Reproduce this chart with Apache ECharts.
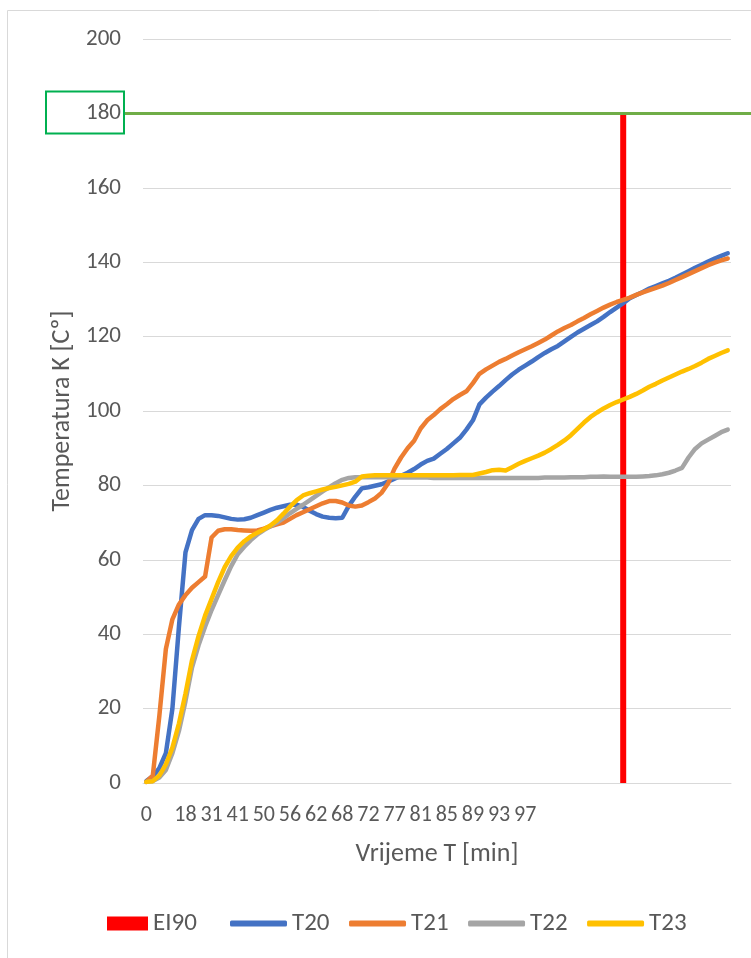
<!DOCTYPE html>
<html><head><meta charset="utf-8">
<script src="https://cdn.jsdelivr.net/npm/echarts@6/dist/echarts.min.js"></script>
<style>html,body{margin:0;padding:0;background:#fff}#c{width:751px;height:958px}</style>
</head><body><div id="c"></div>
<script>
// ---- data ----
const N = 90;
const tickIndex  = [0, 6, 10, 14, 18, 22, 26, 30, 34, 38, 42, 46, 50, 54, 58];
const tickLabels = ['0','18','31','41','50','56','62','68','72','77','81','85','89','93','97'];
const seriesNames = ['EI90','T20','T21','T22','T23'];
const T20 = [0.5,1.8,4,8,20,42,62,68,71,72,
  72,71.8,71.4,71,70.8,70.9,71.3,72,72.7,73.4,
  74,74.4,74.8,74.8,74.2,73.2,72.3,71.6,71.3,71.2,
  71.3,74.5,77,79.2,79.5,79.9,80.3,81,81.8,82.6,
  83.4,84.4,85.6,86.6,87.2,88.5,89.8,91.3,92.8,95,
  97.5,101.8,103.6,105.2,106.7,108.3,109.8,111.1,112.2,113.3,
  114.5,115.6,116.6,117.5,118.7,119.9,121.1,122.1,123.1,124.1,
  125.3,126.6,127.8,129,130.3,131.2,132,132.9,133.6,134.3,
  135,135.8,136.7,137.6,138.5,139.3,140.2,141,141.7,142.4];
const T21 = [0.3,2,18,36,44,48,50.5,52.5,54,55.5,
  66,67.8,68.2,68.2,68,67.9,67.8,67.9,68.4,69,
  69.5,70,71,72,72.8,73.6,74.4,75.2,75.8,75.8,
  75.4,74.6,74.3,74.6,75.5,76.5,78,80.5,84.5,87.5,
  90,92,95.3,97.5,98.9,100.5,101.8,103.2,104.3,105.3,
  107.5,110,111.2,112.2,113.2,114,114.9,115.8,116.6,117.4,
  118.3,119.2,120.3,121.4,122.3,123.1,124.1,125,126,126.9,
  127.8,128.6,129.3,129.9,130.5,131.2,131.9,132.5,133.1,133.7,
  134.4,135.2,136,136.8,137.6,138.4,139.2,139.9,140.5,141];
const T22 = [0.3,0.5,1.5,3.5,8,14,22,31,37,42,
  46.5,50.5,54.5,58.3,61.5,63.5,65.3,66.8,68,69,
  70,71.2,72.5,73.7,74.8,76,77.2,78.4,79.5,80.6,
  81.5,82,82.2,82.2,82.2,82.2,82.2,82.2,82.2,82.1,
  82.1,82.1,82.1,82.1,82,82,82,82,82,82,
  82,82,82,82,82,82,82,82,82,82,
  82,82.1,82.1,82.1,82.1,82.2,82.2,82.2,82.3,82.3,
  82.4,82.3,82.3,82.3,82.3,82.3,82.4,82.5,82.7,83,
  83.4,84,84.7,87.5,89.8,91.3,92.3,93.3,94.3,95];
const T23 = [0.3,0.5,2,5,9.5,16,24,33,39.5,45,
  49.5,54,58,61,63.3,65,66.3,67.3,68.2,69.2,
  70.6,72.4,74.3,76,77.3,77.9,78.4,78.9,79.3,79.6,
  80,80.4,81,82.4,82.6,82.7,82.7,82.7,82.7,82.7,
  82.7,82.7,82.7,82.7,82.7,82.7,82.7,82.7,82.8,82.8,
  82.8,83.2,83.6,84.1,84.2,84,84.9,85.8,86.6,87.3,
  88,88.8,89.8,90.9,92.1,93.5,95.2,96.9,98.4,99.6,
  100.7,101.6,102.4,103.1,103.8,104.6,105.5,106.5,107.3,108.2,
  109,109.8,110.6,111.3,112.1,113,114,114.8,115.6,116.3];
const ei90Index = 73;
const ei90Value = 180;
const limitValue = 180;

// ---- build ----
const categories = Array.from({length: N}, (_, i) => {
  const k = tickIndex.indexOf(i);
  return k >= 0 ? tickLabels[k] : '';
});
const ei90 = categories.map((_, i) => (i === ei90Index ? ei90Value : null));

const FONT = 'Carlito, Lato, "Liberation Sans", sans-serif';
const TXT = '#595959';
const chart = echarts.init(document.getElementById('c'), null, {renderer: 'canvas'});
const lineSeries = (name, data, color) => ({
  name, type: 'line', data, symbol: 'none', smooth: false,
  lineStyle: {color, width: 4.5, cap: 'round', join: 'round'},
  itemStyle: {color}
});
chart.setOption({
  animation: false,
  textStyle: {fontFamily: FONT},
  grid: {left: 143, right: 20, top: 39, bottom: 175},
  xAxis: {
    type: 'category', data: categories, boundaryGap: true,
    axisLine: {lineStyle: {color: '#d9d9d9', width: 1}},
    axisTick: {show: false},
    axisLabel: {interval: 0, color: TXT, fontSize: 22, margin: 21, fontFamily: FONT},
    name: 'Vrijeme T [min]', nameLocation: 'middle', nameGap: 58,
    nameTextStyle: {color: TXT, fontSize: 26, fontFamily: FONT}
  },
  yAxis: {
    type: 'value', min: 0, max: 200, interval: 20,
    axisLine: {show: false}, axisTick: {show: false},
    axisLabel: {color: TXT, fontSize: 23, margin: 22, fontFamily: FONT},
    splitLine: {lineStyle: {color: '#d9d9d9', width: 1}},
    name: 'Temperatura K [Cº]', nameLocation: 'middle', nameGap: 68,
    nameTextStyle: {color: TXT, fontSize: 26, fontFamily: FONT}
  },
  legend: [
    {data: [seriesNames[0]], left: 107, top: 911, padding: 0, icon: 'rect', itemWidth: 41, itemHeight: 14,
     textStyle: {color: TXT, fontSize: 25, fontFamily: FONT}},
    {data: seriesNames.slice(1), left: 230, top: 911, padding: 0, icon: 'roundRect', itemWidth: 57, itemHeight: 6,
     itemGap: 19.5, textStyle: {color: TXT, fontSize: 25, fontFamily: FONT}}
  ],
  series: [
    {name: seriesNames[0], type: 'bar', data: ei90, barWidth: 6, itemStyle: {color: '#ff0000'}},
    lineSeries(seriesNames[1], T20, '#4472c4'),
    lineSeries(seriesNames[2], T21, '#ed7d31'),
    lineSeries(seriesNames[3], T22, '#a5a5a5'),
    lineSeries(seriesNames[4], T23, '#ffc000')
  ]
});

const yLim = chart.convertToPixel({yAxisIndex: 0}, limitValue);
chart.setOption({
  graphic: [
    {type: 'rect', silent: true, shape: {x: 7.5, y: 10.5, width: 900, height: 1000},
     style: {fill: null, stroke: '#d9d9d9', lineWidth: 1}},
    {type: 'line', silent: true, z: 10, shape: {x1: 125, y1: yLim, x2: 751, y2: yLim},
     style: {stroke: '#70ad47', lineWidth: 3}},
    {type: 'rect', silent: true, z: 10, shape: {x: 46, y: yLim - 22, width: 78, height: 42},
     style: {fill: null, stroke: '#00b050', lineWidth: 2}}
  ]
});
</script>
</body></html>
